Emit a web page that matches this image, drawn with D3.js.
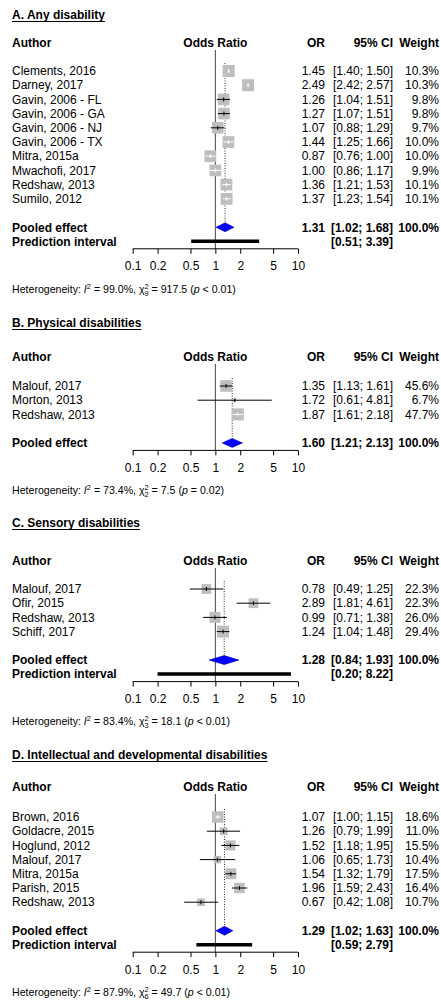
<!DOCTYPE html>
<html>
<head>
<meta charset="utf-8">
<script src="https://cdn.jsdelivr.net/npm/d3@7"></script>
<style>
  html, body { margin: 0; padding: 0; background: #fff; }
  svg { display: block; }
  text { font-family: "Liberation Sans", Arial, sans-serif; fill: #000; }
</style>
</head>
<body>
<svg id="chart" width="441" height="1007"></svg>
<script>
// ---- Panel A: any disability ----
const anyTitle = "A. Any disability";
const anyAuthors = ["Clements, 2016", "Darney, 2017", "Gavin, 2006 - FL", "Gavin, 2006 - GA", "Gavin, 2006 - NJ",
  "Gavin, 2006 - TX", "Mitra, 2015a", "Mwachofi, 2017", "Redshaw, 2013", "Sumilo, 2012"];
const anyOR     = [1.45, 2.49, 1.26, 1.27, 1.07, 1.44, 0.87, 1.00, 1.36, 1.37];
const anyLower  = [1.40, 2.42, 1.04, 1.07, 0.88, 1.25, 0.76, 0.86, 1.21, 1.23];
const anyUpper  = [1.50, 2.57, 1.51, 1.51, 1.29, 1.66, 1.00, 1.17, 1.53, 1.54];
const anyWeight = [10.3, 10.3, 9.8, 9.8, 9.7, 10.0, 10.0, 9.9, 10.1, 10.1];
const anyPooled = [1.31, 1.02, 1.68];
const anyPredict = [0.51, 3.39];
const anyHet = { i2: "99.0%", chi2: "917.5", df: "9", p: "< 0.01" };

// ---- Panel B: physical disabilities ----
const physTitle = "B. Physical disabilities";
const physAuthors = ["Malouf, 2017", "Morton, 2013", "Redshaw, 2013"];
const physOR     = [1.35, 1.72, 1.87];
const physLower  = [1.13, 0.61, 1.61];
const physUpper  = [1.61, 4.81, 2.18];
const physWeight = [45.6, 6.7, 47.7];
const physPooled = [1.60, 1.21, 2.13];
const physPredict = null;
const physHet = { i2: "73.4%", chi2: "7.5", df: "2", p: "= 0.02" };

// ---- Panel C: sensory disabilities ----
const sensTitle = "C. Sensory disabilities";
const sensAuthors = ["Malouf, 2017", "Ofir, 2015", "Redshaw, 2013", "Schiff, 2017"];
const sensOR     = [0.78, 2.89, 0.99, 1.24];
const sensLower  = [0.49, 1.81, 0.71, 1.04];
const sensUpper  = [1.25, 4.61, 1.38, 1.48];
const sensWeight = [22.3, 22.3, 26.0, 29.4];
const sensPooled = [1.28, 0.84, 1.93];
const sensPredict = [0.20, 8.22];
const sensHet = { i2: "83.4%", chi2: "18.1", df: "3", p: "< 0.01" };

// ---- Panel D: intellectual and developmental disabilities ----
const iddTitle = "D. Intellectual and developmental disabilities";
const iddAuthors = ["Brown, 2016", "Goldacre, 2015", "Hoglund, 2012", "Malouf, 2017", "Mitra, 2015a",
  "Parish, 2015", "Redshaw, 2013"];
const iddOR     = [1.07, 1.26, 1.52, 1.06, 1.54, 1.96, 0.67];
const iddLower  = [1.00, 0.79, 1.18, 0.65, 1.32, 1.59, 0.42];
const iddUpper  = [1.15, 1.99, 1.95, 1.73, 1.79, 2.43, 1.08];
const iddWeight = [18.6, 11.0, 15.5, 10.4, 17.5, 16.4, 10.7];
const iddPooled = [1.29, 1.02, 1.63];
const iddPredict = [0.59, 2.79];
const iddHet = { i2: "87.9%", chi2: "49.7", df: "6", p: "< 0.01" };

// Shared axis ticks
const tickValues = [0.1, 0.2, 0.5, 1, 2, 5, 10];
const tickLabels = ["0.1", "0.2", "0.5", "1", "2", "5", "10"];

// Assemble panels (vertical anchors and largest box size for each block)
const panels = [
  { title: anyTitle, authors: anyAuthors, or: anyOR, lo: anyLower, hi: anyUpper, w: anyWeight,
    pooled: anyPooled, pred: anyPredict, het: anyHet, top: 15, header: 43, row0: 71, boxMax: 12 },
  { title: physTitle, authors: physAuthors, or: physOR, lo: physLower, hi: physUpper, w: physWeight,
    pooled: physPooled, pred: physPredict, het: physHet, top: 323, header: 357, row0: 386, boxMax: 12 },
  { title: sensTitle, authors: sensAuthors, or: sensOR, lo: sensLower, hi: sensUpper, w: sensWeight,
    pooled: sensPooled, pred: sensPredict, het: sensHet, top: 523, header: 561, row0: 589, boxMax: 12 },
  { title: iddTitle, authors: iddAuthors, or: iddOR, lo: iddLower, hi: iddUpper, w: iddWeight,
    pooled: iddPooled, pred: iddPredict, het: iddHet, top: 755, header: 787, row0: 817, boxMax: 11.5 }
];

const svg = d3.select("#chart");
const x = d3.scaleLog().domain([0.1, 10]).range([132.7, 298]);
const fmt2 = d3.format(".2f");
const fmtW = d => d3.format(".1f")(d) + "%";
const ci = (a, b) => "[" + fmt2(a) + "; " + fmt2(b) + "]";

const ROW = 14.2;
const COL_AUTHOR = 12, COL_OR = 325, COL_CI = 393, COL_W = 439;
const FS = 12;

panels.forEach(p => {
  const g = svg.append("g");
  const n = p.authors.length;
  const rowY = d3.range(n).map(i => p.row0 + i * ROW);
  const pooledY = rowY[n - 1] + 28.5;
  const predY = p.pred ? pooledY + 14 : null;
  const axisY = (p.pred ? predY : pooledY) + 7.5;

  // Title with underline
  const t = g.append("text").attr("x", COL_AUTHOR).attr("y", p.top).attr("dy", "0.35em")
    .style("font-size", "12px").style("font-weight", "bold").text(p.title);
  const tw = t.node().getComputedTextLength();
  g.append("line").attr("x1", COL_AUTHOR).attr("x2", COL_AUTHOR + tw)
    .attr("y1", p.top + 6.5).attr("y2", p.top + 6.5).attr("stroke", "#000").attr("stroke-width", 1);

  // Column headers
  const hdr = [
    { s: "Author", x: COL_AUTHOR, a: "start" },
    { s: "Odds Ratio", x: x(1), a: "middle" },
    { s: "OR", x: COL_OR, a: "end" },
    { s: "95% CI", x: COL_CI, a: "end" },
    { s: "Weight", x: COL_W, a: "end" }
  ];
  g.selectAll("text.hdr").data(hdr).join("text").attr("class", "hdr")
    .attr("x", d => d.x).attr("y", p.header).attr("dy", "0.35em")
    .attr("text-anchor", d => d.a).style("font-size", FS + "px").style("font-weight", "bold")
    .text(d => d.s);

  // Reference line at OR = 1
  g.append("line").attr("x1", x(1)).attr("x2", x(1))
    .attr("y1", p.header + 7).attr("y2", axisY)
    .attr("stroke", "#444").attr("stroke-width", 1);

  // Dotted line at the pooled estimate
  g.append("line").attr("x1", x(p.pooled[0])).attr("x2", x(p.pooled[0]))
    .attr("y1", rowY[0] - 8).attr("y2", pooledY - 4.5)
    .attr("stroke", "#333").attr("stroke-width", 1).attr("stroke-dasharray", "1,1.5");

  // Study rows
  const wMax = d3.max(p.w);
  const rows = p.authors.map((a, i) => ({
    author: a, or: p.or[i], lo: p.lo[i], hi: p.hi[i], w: p.w[i], y: rowY[i],
    size: p.boxMax * Math.pow(p.w[i] / wMax, 0.75)
  }));

  const marks = g.selectAll("g.study").data(rows).join("g").attr("class", "study");
  marks.append("rect")
    .attr("x", d => x(d.or) - d.size / 2).attr("y", d => d.y - d.size / 2)
    .attr("width", d => d.size).attr("height", d => d.size)
    .attr("fill", "#bebebe");
  // Interval drawn white when it lies entirely inside its box
  const lineCol = d => (x(d.lo) >= x(d.or) - d.size / 2 && x(d.hi) <= x(d.or) + d.size / 2) ? "#fff" : "#000";
  marks.append("line")
    .attr("x1", d => x(d.lo)).attr("x2", d => x(d.hi))
    .attr("y1", d => d.y).attr("y2", d => d.y)
    .attr("stroke", lineCol).attr("stroke-width", 1);
  marks.append("line")
    .attr("x1", d => x(d.or)).attr("x2", d => x(d.or))
    .attr("y1", d => d.y - 2).attr("y2", d => d.y + 2)
    .attr("stroke", lineCol).attr("stroke-width", 1);

  marks.append("text").attr("x", COL_AUTHOR).attr("y", d => d.y).attr("dy", "0.35em")
    .style("font-size", FS + "px").text(d => d.author);
  marks.append("text").attr("x", COL_OR).attr("y", d => d.y).attr("dy", "0.35em")
    .attr("text-anchor", "end").style("font-size", FS + "px").text(d => fmt2(d.or));
  marks.append("text").attr("x", COL_CI).attr("y", d => d.y).attr("dy", "0.35em")
    .attr("text-anchor", "end").style("font-size", FS + "px").text(d => ci(d.lo, d.hi));
  marks.append("text").attr("x", COL_W).attr("y", d => d.y).attr("dy", "0.35em")
    .attr("text-anchor", "end").style("font-size", FS + "px").text(d => fmtW(d.w));

  // Pooled effect diamond
  const [pe, pl, ph] = p.pooled;
  g.append("path")
    .attr("d", d3.line()([[x(pl), pooledY], [x(pe), pooledY - 4.5], [x(ph), pooledY], [x(pe), pooledY + 4.5]]) + "Z")
    .attr("fill", "#0000ff").attr("stroke", "#0000aa").attr("stroke-width", 0.6);

  const bold = (s, xx, yy, anchor) => g.append("text").attr("x", xx).attr("y", yy).attr("dy", "0.35em")
    .attr("text-anchor", anchor).style("font-size", FS + "px").style("font-weight", "bold").text(s);
  bold("Pooled effect", COL_AUTHOR, pooledY, "start");
  bold(fmt2(pe), COL_OR, pooledY, "end");
  bold(ci(pl, ph), COL_CI, pooledY, "end");
  bold("100.0%", COL_W, pooledY, "end");

  // Prediction interval bar
  if (p.pred) {
    g.append("line").attr("x1", x(p.pred[0])).attr("x2", x(p.pred[1]))
      .attr("y1", predY).attr("y2", predY).attr("stroke", "#000").attr("stroke-width", 3.5);
    bold("Prediction interval", COL_AUTHOR, predY, "start");
    bold(ci(p.pred[0], p.pred[1]), COL_CI, predY, "end");
  }

  // Log-scale odds ratio axis
  const axis = d3.axisBottom(x).tickValues(tickValues).tickFormat((d, i) => tickLabels[i])
    .tickSize(5).tickSizeOuter(0);
  const ax = g.append("g").attr("transform", `translate(0,${axisY})`).call(axis);
  ax.select(".domain").attr("stroke", "#000").attr("d", `M${x(0.1)},0H${x(10)}`);
  ax.selectAll(".tick line").attr("stroke", "#000");
  ax.selectAll(".tick text").attr("y", 13).attr("dy", "0.71em")
    .style("font-size", FS + "px").style("font-family", "'Liberation Sans', Arial, sans-serif").attr("fill", "#000");

  // Heterogeneity statement
  const hy = axisY + 40;
  const ht = g.append("text").attr("x", COL_AUTHOR).attr("y", hy).attr("dy", "0.35em").style("font-size", "10.6px");
  ht.append("tspan").text("Heterogeneity: ");
  ht.append("tspan").style("font-style", "italic").text("I");
  ht.append("tspan").attr("dy", -4).style("font-size", "7.4px").text("2");
  ht.append("tspan").attr("dy", 4).text(" = " + p.het.i2 + ", \u03c7");
  ht.append("tspan").attr("dy", -4).style("font-size", "7.4px").text("2");
  ht.append("tspan").attr("dx", -4.1).attr("dy", 7).style("font-size", "7.4px").text(p.het.df);
  ht.append("tspan").attr("dy", -3).text(" = " + p.het.chi2 + " (");
  ht.append("tspan").style("font-style", "italic").text("p");
  ht.append("tspan").text(" " + p.het.p + ")");
});
</script>
</body>
</html>
